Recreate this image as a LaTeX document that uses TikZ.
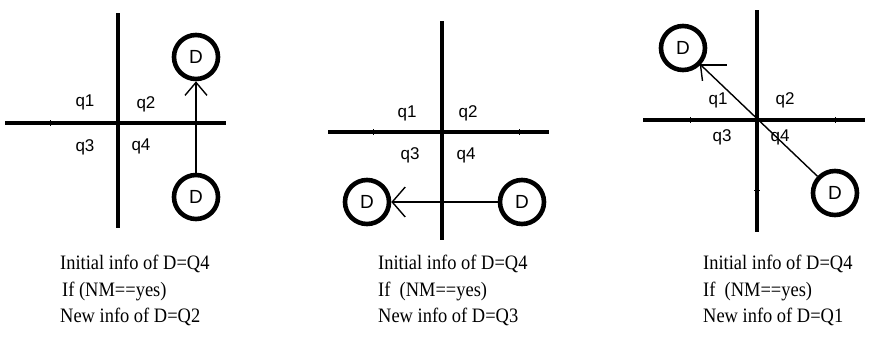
\documentclass[tikz,border=0pt]{standalone}
\usepackage{fontspec}
\setmainfont{Liberation Serif}
\newfontfamily\dfont{Liberation Sans}
\newfontfamily\capfont[FakeStretch=0.9]{Liberation Serif}
\usetikzlibrary{arrows.meta}
\begin{document}
\begin{tikzpicture}[x=1pt,y=-1pt,
  axis/.style={line width=3.6pt},
  smalltick/.style={line width=1pt},
  dnode/.style={circle,draw,line width=4.6pt,minimum size=44pt,inner sep=0pt,
                font=\dfont\fontsize{19}{19}\selectfont},
  qlab/.style={inner sep=0pt,font=\dfont\fontsize{17}{17}\selectfont},
  conn/.style={line width=1.4pt},
  caption/.style={anchor=base west,inner sep=0pt,font=\capfont\fontsize{20.5}{20.5}\selectfont}]
\useasboundingbox (0,0) rectangle (881,338);

% ---------- panel 1 ----------
\draw[axis] (118,13) -- (118,228);
\draw[axis] (5,123) -- (226,123);
\draw[smalltick] (50,120) -- (50,126);
\node[qlab] (p1q1) at (85,102) {q1};
\node[qlab] (p1q2) at (146,104) {q2};
\node[qlab] (p1q3) at (85,147) {q3};
\node[qlab] (p1q4) at (141,146) {q4};
\node[dnode] (d1t) at (196,57) {D};
\node[dnode] (d1b) at (196,197) {D};
\draw[conn,-{Straight Barb[length=13pt,width=22pt]}] (d1b) -- (d1t);
\node[caption] (c1a) at (60,269) {Initial info of D=Q4};
\node[caption] (c1b) at (62,296) {If (NM==yes)};
\node[caption] (c1c) at (60,322) {New info of D=Q2};

% ---------- panel 2 ----------
\draw[axis] (442,21) -- (442,240);
\draw[axis] (328,132) -- (549,132);
\draw[smalltick] (373,129) -- (373,135);
\draw[smalltick] (519,129) -- (519,135);
\node[qlab] (p2q1) at (407,113) {q1};
\node[qlab] (p2q2) at (468,113) {q2};
\node[qlab] (p2q3) at (410,155) {q3};
\node[qlab] (p2q4) at (466,155) {q4};
\node[dnode] (d2l) at (367,202) {D};
\node[dnode] (d2r) at (522,202) {D};
\draw[conn,-{Straight Barb[length=13pt,width=30pt]}] (d2r) -- (d2l);
\node[caption] (c2a) at (378,269) {Initial info of D=Q4};
\node[caption] (c2b) at (378,296) {If\ \ (NM==yes)};
\node[caption] (c2c) at (378,322) {New info of D=Q3};

% ---------- panel 3 ----------
\draw[axis] (757,10) -- (757,232);
\draw[axis] (643,120) -- (865,120);
\draw[smalltick] (690,117) -- (690,123);
\draw[smalltick] (835,117) -- (835,123);
\draw[smalltick] (754,190) -- (760,190);
\node[qlab] (p3q1) at (718,100) {q1};
\node[qlab] (p3q2) at (785,100) {q2};
\node[qlab] (p3q3) at (722,137) {q3};
\node[qlab] (p3q4) at (780,137) {q4};
\node[dnode] (d3t) at (683,48) {D};
\node[dnode] (d3b) at (835,193) {D};
\draw[conn] (d3b) -- (d3t);
\coordinate (tip3) at (d3t.-44);
\draw[conn] (tip3) -- ++(27,0);
\draw[conn] (tip3) -- ++(2,16);
\node[caption] (c3a) at (703,269) {Initial info of D=Q4};
\node[caption] (c3b) at (703,296) {If\ \ (NM==yes)};
\node[caption] (c3c) at (703,322) {New info of D=Q1};
\end{tikzpicture}
\end{document}
